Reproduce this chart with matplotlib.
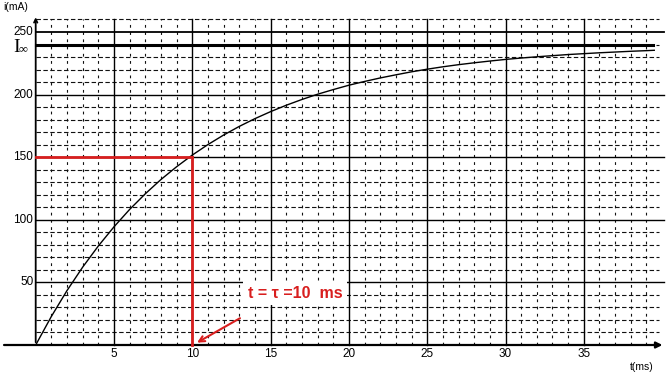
import matplotlib
matplotlib.use("Agg")
import matplotlib.pyplot as plt

# ---- data ----
t_ms = [0, 1, 2, 3, 4, 5, 6, 7, 8, 9, 10, 11, 12, 13, 14, 15, 16, 17, 18, 19,
        20, 21, 22, 23, 24, 25, 26, 27, 28, 29, 30, 31, 32, 33, 34, 35, 36, 37,
        38, 39, 39.5]
i_mA = [0, 22.8, 43.5, 62.2, 79.1, 94.4, 108.3, 120.8, 132.2, 142.4, 151.7,
        160.1, 167.7, 174.6, 180.8, 186.4, 191.5, 196.1, 200.3, 204.0, 207.5,
        210.5, 213.3, 215.8, 218.2, 220.3, 222.2, 223.9, 225.4, 226.8, 228.1,
        229.2, 230.2, 231.1, 232.0, 232.7, 233.4, 234.0, 234.6, 235.1, 235.4]
x_ticks = [5, 10, 15, 20, 25, 30, 35]
y_ticks = [50, 100, 150, 200, 250]
x_minor = list(range(1, 40))
y_minor = list(range(10, 261, 10))
I_inf = 240
tau = 10
i_tau = 150
annot_text = "t = τ =10  ms"

RED = "#d81e1e"
px_x = 15.66   # pixels per ms
px_y = 1.252   # pixels per mA
x0_px, y0_px = 35.7, 345

fig = plt.figure(figsize=(6.68, 3.78), dpi=100)
ax = fig.add_axes([0, 0, 1, 1])
ax.set_xlim(-x0_px / px_x, (668 - x0_px) / px_x)
ax.set_ylim(-(378 - y0_px) / px_y, y0_px / px_y)
ax.axis("off")

xmax_grid = 39.8
ymax_grid = 260

# minor grid
for x in x_minor:
    if x % 5 != 0:
        ax.plot([x, x], [0, ymax_grid], color="#111111", lw=0.8,
                linestyle=(0, (2.5, 4)), zorder=1)
for y in y_minor:
    if y % 50 != 0:
        ax.plot([0, xmax_grid], [y, y], color="#111111", lw=0.8,
                linestyle=(0, (4, 2.2)), zorder=1)
# major grid
for x in x_ticks:
    ax.plot([x, x], [0, ymax_grid], color="black", lw=1.0, zorder=2)
for y in y_ticks:
    ax.plot([0, xmax_grid + 0.3], [y, y], color="black",
            lw=1.3 if y == 250 else 1.0, zorder=2)
# I infinity line
ax.plot([0, 39.4], [I_inf, I_inf], color="black", lw=2.2, zorder=3)

# axes with arrows
ax.annotate("", xy=(40.2, 0), xytext=(-2.2, 0),
            arrowprops=dict(arrowstyle="-|>", color="black", lw=1.6,
                            mutation_scale=9), zorder=4)
ax.annotate("", xy=(0, 264), xytext=(0, 0),
            arrowprops=dict(arrowstyle="->", color="black", lw=1.3,
                            mutation_scale=6), zorder=4)

# curve
ax.plot(t_ms, i_mA, color="black", lw=1.0, zorder=5)

# red construction lines
ax.plot([0, tau], [i_tau, i_tau], color=RED, lw=2.0, zorder=6)
ax.plot([tau, tau], [i_tau, 0], color=RED, lw=2.0, zorder=6)

# annotation
ax.text(16.55, 41.5, annot_text, color=RED, fontsize=11.5, fontweight="bold",
        family="Liberation Sans", ha="center", va="center", zorder=8,
        bbox=dict(boxstyle="square,pad=0.3", fc="white", ec="none"))
ax.annotate("", xy=(10.15, 0.8), xytext=(13.2, 22.5),
            arrowprops=dict(arrowstyle="->", color=RED, lw=1.5,
                            mutation_scale=10), zorder=7)

# tick labels
for x in x_ticks:
    ax.text(x, -(354 - y0_px) / px_y, str(x), ha="center", va="center",
            fontsize=8.5, family="Liberation Sans")
for y in y_ticks:
    ax.text(-0.15, y, str(y), ha="right", va="center",
            fontsize=8.5, family="Liberation Sans")
ax.text(-1.0, I_inf - 2, "I", ha="right", va="center",
        fontsize=14, family="Liberation Serif")
ax.text(-1.1, I_inf - 4, "∞", ha="left", va="center",
        fontsize=9, family="Liberation Serif")
ax.text(-2.05, 270, "i(mA)", ha="left", va="center", fontsize=7.5,
        family="Liberation Sans")
ax.text(38.7, -(367 - y0_px) / px_y, "t(ms)", ha="center", va="center",
        fontsize=7.5, family="Liberation Sans")

fig.savefig("out.png", dpi=100)
